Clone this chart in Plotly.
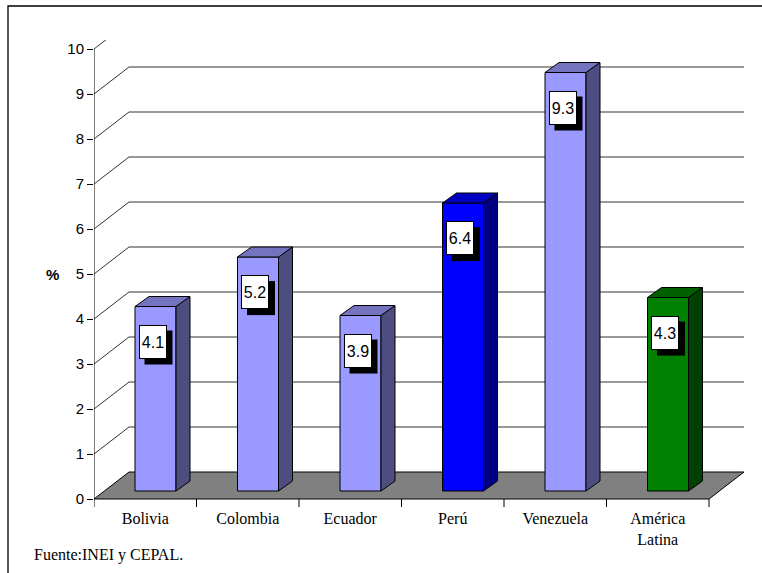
import plotly.graph_objects as go

# Data
categories = ["Bolivia", "Colombia", "Ecuador", "Perú", "Venezuela", "América<br>Latina"]
values = [4.1, 5.2, 3.9, 6.4, 9.3, 4.3]
front_colors = ["#9999FF", "#9999FF", "#9999FF", "#0000FF", "#9999FF", "#008000"]
side_colors = ["#4D4D80", "#4D4D80", "#4D4D80", "#000080", "#4D4D80", "#004000"]
top_colors = ["#7373BF", "#7373BF", "#7373BF", "#0000C0", "#7373BF", "#006000"]
y_ticks = list(range(0, 11))
source_note = "Fuente:INEI y CEPAL."

# Geometry of the pseudo-3D scene (data units)
W, H = 762, 573
ML, MR, MT, MB = 94, 10, 40, 66
PX_X = 102.5          # pixels per category
PX_Y = 45.0           # pixels per percentage point
WALL_DX, WALL_DY = 35 / PX_X, 27 / PX_Y    # depth of floor / back wall
BAR_DX, BAR_DY = 14 / PX_X, 10 / PX_Y      # depth of each bar
BASE = 8 / PX_Y                            # bars stand a little behind the front edge
BAR_LEFT, BAR_W = 0.40, 0.40
TICK_DOWN = 8 / PX_Y

plot_w = W - ML - MR
plot_h = H - MT - MB
x_range = [0, plot_w / PX_X]
y_bottom = -TICK_DOWN
y_range = [y_bottom, y_bottom + plot_h / PX_Y]
n = len(categories)
x_end = n + WALL_DX


def px_to_paper_x(px):
    return (px - ML) / plot_w


def px_to_paper_y(py):
    return (H - MB - py) / plot_h


fig = go.Figure()
shapes = []

# Back-wall gridlines with the left-wall diagonals
for v in y_ticks[1:]:
    path = f"M 0,{v} L {WALL_DX},{v + WALL_DY} L {x_end},{v + WALL_DY}"
    shapes.append(dict(type="path", path=path, xref="x", yref="y", layer="below",
                       line=dict(color="#333333", width=1)))

# Floor
floor = f"M 0,0 L {n},0 L {x_end},{WALL_DY} L {WALL_DX},{WALL_DY} Z"
shapes.append(dict(type="path", path=floor, xref="x", yref="y", layer="below",
                   fillcolor="#808080", line=dict(color="#000000", width=1)))

# Value axis line and category tick marks
shapes.append(dict(type="line", x0=0, x1=0, y0=0, y1=max(y_ticks), xref="x", yref="y",
                   layer="below", line=dict(color="#000000", width=1)))
for k in range(n + 1):
    shapes.append(dict(type="line", x0=k, x1=k, y0=0, y1=-TICK_DOWN, xref="x", yref="y",
                       layer="below", line=dict(color="#000000", width=1)))

# Outer frame
shapes.append(dict(type="rect", xref="paper", yref="paper",
                   x0=px_to_paper_x(8), x1=px_to_paper_x(W + 40),
                   y0=px_to_paper_y(H + 40), y1=px_to_paper_y(6),
                   line=dict(color="#000000", width=1.3), fillcolor="rgba(0,0,0,0)"))

# Front faces of the bars
centers = [i + BAR_LEFT + BAR_W / 2 for i in range(n)]
fig.add_trace(go.Bar(
    x=centers, y=values, base=BASE, width=BAR_W,
    marker=dict(color=front_colors, line=dict(color="#000000", width=1)),
    hoverinfo="skip", showlegend=False,
))

# Side and top faces
for i, v in enumerate(values):
    x0 = i + BAR_LEFT
    x1 = x0 + BAR_W
    top = BASE + v
    fig.add_trace(go.Scatter(
        x=[x1, x1 + BAR_DX, x1 + BAR_DX, x1, x1],
        y=[BASE, BASE + BAR_DY, top + BAR_DY, top, BASE],
        mode="lines", fill="toself", fillcolor=side_colors[i],
        line=dict(color="#000000", width=1), hoverinfo="skip", showlegend=False,
    ))
    fig.add_trace(go.Scatter(
        x=[x0, x1, x1 + BAR_DX, x0 + BAR_DX, x0],
        y=[top, top, top + BAR_DY, top + BAR_DY, top],
        mode="lines", fill="toself", fillcolor=top_colors[i],
        line=dict(color="#000000", width=1), hoverinfo="skip", showlegend=False,
    ))

# Value labels: white boxes with a drop shadow
annotations = []
label_font = dict(family="Liberation Sans, Arial", size=16, color="#000000")
for i, v in enumerate(values):
    y_lab = BASE + v - 0.78
    # drop shadow (pixel-sized rectangle anchored at the label position)
    shapes.append(dict(type="rect", xref="x", yref="y",
                       xsizemode="pixel", ysizemode="pixel",
                       xanchor=centers[i], yanchor=y_lab,
                       x0=-11, x1=17, y0=-23, y1=11,
                       fillcolor="#000000", line=dict(width=0), layer="above"))
    annotations.append(dict(text=f"{v}", x=centers[i], y=y_lab, xref="x", yref="y",
                            showarrow=False, xshift=-3,
                            width=22, height=28, borderpad=2, borderwidth=1,
                            bgcolor="#FFFFFF", bordercolor="#000000", font=label_font))

# Axis title and source note
annotations.append(dict(text="<b>%</b>", x=px_to_paper_x(52), y=5, xref="paper", yref="y",
                        showarrow=False, xanchor="center", yanchor="middle",
                        font=dict(family="Liberation Sans, Arial", size=15, color="#000000")))
annotations.append(dict(text=source_note, x=px_to_paper_x(32), y=px_to_paper_y(555),
                        xref="paper", yref="paper", showarrow=False,
                        xanchor="left", yanchor="middle",
                        font=dict(family="Liberation Serif, Times New Roman", size=16,
                                  color="#000000")))

fig.update_layout(
    width=W, height=H,
    margin=dict(l=ML, r=MR, t=MT, b=MB, pad=0),
    paper_bgcolor="#FFFFFF", plot_bgcolor="#FFFFFF",
    showlegend=False,
    shapes=shapes, annotations=annotations,
    xaxis=dict(range=x_range, showgrid=False, zeroline=False, showline=False,
               tickmode="array", tickvals=[i + 0.5 for i in range(n)], ticktext=categories,
               ticks="", tickfont=dict(family="Liberation Serif, Times New Roman", size=16,
                                       color="#000000"),
               fixedrange=True),
    yaxis=dict(range=y_range, showgrid=False, zeroline=False, showline=False,
               tickmode="array", tickvals=y_ticks, ticks="outside", ticklen=6,
               tickcolor="#000000", tickwidth=1,
               tickfont=dict(family="Liberation Sans, Arial", size=15, color="#000000"),
               fixedrange=True),
)

fig.write_html("out.html")
